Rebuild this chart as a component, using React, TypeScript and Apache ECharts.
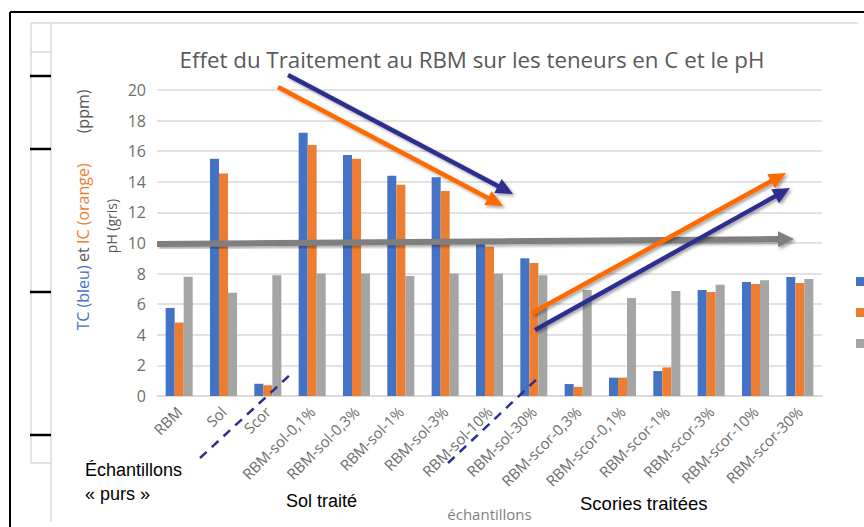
import React, { useEffect, useRef } from "react";
import * as echarts from "echarts";

const categories = [
  "RBM", "Sol", "Scor", "RBM-sol-0,1%", "RBM-sol-0,3%", "RBM-sol-1%", "RBM-sol-3%",
  "RBM-sol-10%", "RBM-sol-30%", "RBM-scor-0,3%", "RBM-scor-0,1%", "RBM-scor-1%",
  "RBM-scor-3%", "RBM-scor-10%", "RBM-scor-30%",
];
const tcValues = [5.75, 15.5, 0.8, 17.2, 15.75, 14.4, 14.3, 10.25, 9.0, 0.78, 1.2, 1.63, 6.93, 7.45, 7.78];
const icValues = [4.8, 14.55, 0.7, 16.4, 15.5, 13.8, 13.4, 9.75, 8.7, 0.6, 1.2, 1.87, 6.8, 7.32, 7.39];
const phValues = [7.8, 6.75, 7.9, 8.0, 8.0, 7.85, 8.0, 8.0, 7.9, 6.93, 6.4, 6.86, 7.27, 7.56, 7.65];
const seriesNames = ["TC", "IC", "pH"];
const seriesColors = ["#4472C4", "#ED7D31", "#A5A5A5"];

const NAVY = "#2E2E8F";
const ORANGE = "#FF6A00";
const GREY_ARROW = "#7F7F7F";

function arrow(sx: number, sy: number, tx: number, ty: number, color: string, width: number, headLen: number, headHalf: number) {
  const dx = tx - sx, dy = ty - sy;
  const len = Math.sqrt(dx * dx + dy * dy);
  const ux = dx / len, uy = dy / len;
  const nx = -uy, ny = ux;
  const bx = tx - ux * headLen, by = ty - uy * headLen;
  const shadow = { shadowBlur: 3, shadowOffsetX: 2, shadowOffsetY: 2, shadowColor: "rgba(0,0,0,0.35)" };
  return [
    {
      type: "line", z: 100,
      shape: { x1: sx, y1: sy, x2: bx + ux * 2, y2: by + uy * 2 },
      style: { stroke: color, lineWidth: width, ...shadow },
    },
    {
      type: "polygon", z: 101,
      shape: { points: [[tx, ty], [bx + nx * headHalf, by + ny * headHalf], [bx - nx * headHalf, by - ny * headHalf]] },
      style: { fill: color, ...shadow },
    },
  ];
}

export default function App() {
  const ref = useRef<HTMLDivElement>(null);
  useEffect(() => {
    document.body.style.margin = "0";
    if (!ref.current) return;
    const chart = echarts.init(ref.current, null, { renderer: "svg" });
    const sans = "'Liberation Sans', Arial, sans-serif";
    const ui = "'Open Sans', 'Noto Sans', sans-serif";
    const graphics: any[] = [
      // outer black frame
      { type: "line", shape: { x1: 10, y1: 12, x2: 864, y2: 12 }, style: { stroke: "#000", lineWidth: 2 } },
      { type: "line", shape: { x1: 10, y1: 12, x2: 10, y2: 527 }, style: { stroke: "#000", lineWidth: 2 } },
      // grey ruler frame
      { type: "line", shape: { x1: 31, y1: 23, x2: 858, y2: 23 }, style: { stroke: "#D9D9D9", lineWidth: 1.5 } },
      { type: "line", shape: { x1: 31, y1: 23, x2: 31, y2: 463 }, style: { stroke: "#D9D9D9", lineWidth: 1.5 } },
      { type: "line", shape: { x1: 51, y1: 23, x2: 51, y2: 522 }, style: { stroke: "#D9D9D9", lineWidth: 1.5 } },
      { type: "line", shape: { x1: 31, y1: 52, x2: 51, y2: 52 }, style: { stroke: "#D9D9D9", lineWidth: 1.5 } },
      { type: "line", shape: { x1: 31, y1: 463, x2: 51, y2: 463 }, style: { stroke: "#D9D9D9", lineWidth: 1.5 } },
      ...[76, 149, 292, 435].map((y) => ({
        type: "line", shape: { x1: 30, y1: y, x2: 51, y2: y }, style: { stroke: "#000", lineWidth: 2.5 },
      })),
      // y axis name
      {
        type: "text", x: 83, y: 210, rotation: Math.PI / 2, z: 50,
        style: {
          text: "{b|TC (bleu)} {g|et} {o|IC (orange)}{sp| }{g|(ppm)}",
          align: "center", verticalAlign: "middle",
          rich: {
            b: { fill: "#4472C4", fontSize: 16, fontFamily: ui },
            o: { fill: "#ED7D31", fontSize: 16, fontFamily: ui },
            g: { fill: "#595959", fontSize: 16, fontFamily: ui },
            sp: { width: 30, fontSize: 16, fontFamily: ui },
          },
        },
      },
      {
        type: "text", x: 111, y: 226, rotation: Math.PI / 2, z: 50,
        style: { text: "pH (gris)", fill: "#595959", fontSize: 14, fontFamily: ui, align: "center", verticalAlign: "middle" },
      },
      // annotations
      { type: "text", x: 85, y: 470, z: 50, style: { text: "Échantillons", fill: "#000", fontSize: 18, fontFamily: sans, verticalAlign: "middle" } },
      { type: "text", x: 85, y: 494, z: 50, style: { text: "« purs »", fill: "#000", fontSize: 18, fontFamily: sans, verticalAlign: "middle" } },
      { type: "text", x: 286, y: 501, z: 50, style: { text: "Sol traité", fill: "#000", fontSize: 18, fontFamily: sans, verticalAlign: "middle" } },
      { type: "text", x: 580, y: 503, z: 50, style: { text: "Scories traitées", fill: "#000", fontSize: 18.5, fontFamily: sans, verticalAlign: "middle" } },
      // dashed separators
      { type: "line", z: 100, shape: { x1: 200, y1: 458, x2: 292, y2: 373 }, style: { stroke: NAVY, lineWidth: 2.5, lineDash: [9, 7] } },
      { type: "line", z: 100, shape: { x1: 448, y1: 463, x2: 538, y2: 378 }, style: { stroke: NAVY, lineWidth: 2.5, lineDash: [9, 7] } },
      // arrows
      ...arrow(288, 75, 513, 194, NAVY, 4.5, 17, 8),
      ...arrow(278, 87, 503, 206, ORANGE, 4.5, 17, 8),
      ...arrow(157, 244, 794, 239, GREY_ARROW, 6, 16, 8),
      ...arrow(532, 313, 786, 173, ORANGE, 4.5, 17, 8),
      ...arrow(535, 330, 790, 188, NAVY, 4.5, 17, 8),
    ];

    chart.setOption({
      animation: false,
      backgroundColor: "#fff",
      title: {
        text: "Effet du Traitement au RBM sur les teneurs en C et le pH",
        left: 467, top: 43, textAlign: "center",
        textStyle: { color: "#595959", fontSize: 22.3, fontWeight: "normal", fontFamily: ui },
      },
      legend: {
        orient: "vertical", left: 851, top: 272, itemWidth: 9, itemHeight: 9, itemGap: 22,
        icon: "rect",
        formatter: () => "",
        textStyle: { color: "#595959", fontSize: 14, fontFamily: ui },
        data: seriesNames,
      },
      grid: { left: 157, right: 42, top: 90, bottom: 131, containLabel: false },
      xAxis: {
        type: "category",
        data: categories,
        name: "échantillons",
        nameLocation: "middle",
        nameGap: 110,
        nameTextStyle: { color: "#7F7F7F", fontSize: 15, fontFamily: ui },
        axisLine: { lineStyle: { color: "#D9D9D9", width: 1.5 } },
        axisTick: { show: false },
        axisLabel: { rotate: 45, margin: 13, color: "#6E6E6E", fontSize: 15, fontFamily: ui, interval: 0 },
      },
      yAxis: {
        type: "value", min: 0, max: 20, interval: 2,
        axisLine: { show: false }, axisTick: { show: false },
        splitLine: { lineStyle: { color: "#D9D9D9", width: 1.5 } },
        axisLabel: { margin: 11, color: "#6E6E6E", fontSize: 16, fontFamily: ui },
      },
      series: [tcValues, icValues, phValues].map((vals, i) => ({
        name: seriesNames[i],
        type: "bar",
        data: vals,
        barGap: "0%",
        barCategoryGap: "39%",
        itemStyle: { color: seriesColors[i] },
      })),
      graphic: graphics,
    });
    return () => chart.dispose();
  }, []);
  return <div ref={ref} style={{ width: 864, height: 527 }} />;
}
